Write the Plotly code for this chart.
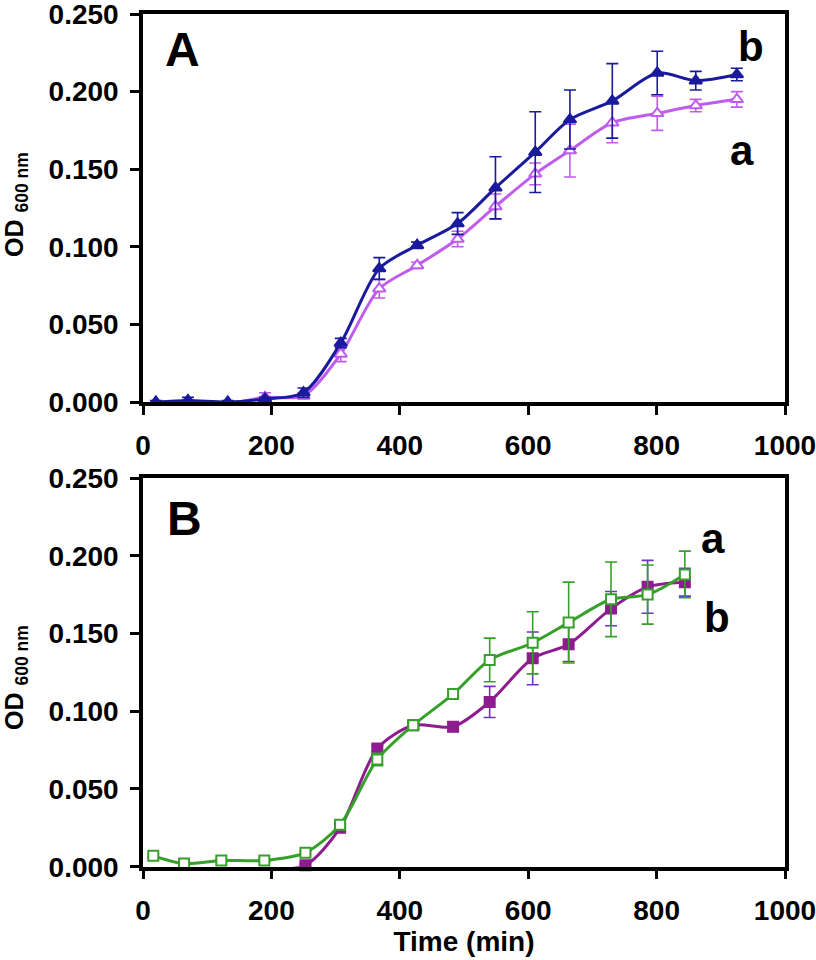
import plotly.graph_objects as go

# ---------------- Panel A data ----------------
time_A = [20, 70, 132, 190, 250, 308, 368, 427, 490, 549, 611, 665, 731, 801, 861, 925]
A_a = [-0.001, 0.000, -0.001, 0.003, 0.004, 0.031, 0.073, 0.088, 0.105, 0.126, 0.147, 0.162, 0.180, 0.186, 0.191, 0.195]
A_a_err = [0.001, 0.001, 0.001, 0.003, 0.002, 0.005, 0.006, 0.002, 0.005, 0.008, 0.007, 0.017, 0.013, 0.011, 0.004, 0.005]
A_b = [0.000, 0.001, 0.000, 0.002, 0.006, 0.038, 0.086, 0.101, 0.115, 0.138, 0.161, 0.182, 0.194, 0.212, 0.207, 0.211]
A_b_err = [0.001, 0.002, 0.001, 0.001, 0.003, 0.003, 0.007, 0.002, 0.007, 0.020, 0.026, 0.019, 0.024, 0.014, 0.006, 0.004]

# ---------------- Panel B data ----------------
time_B_a = [16, 64, 122, 189, 253, 307, 365, 421, 483, 540, 607, 663, 729, 786, 844]
B_a = [0.007, 0.002, 0.004, 0.004, 0.009, 0.027, 0.069, 0.091, 0.111, 0.133, 0.144, 0.157, 0.172, 0.175, 0.188]
B_a_err = [0.001, 0.001, 0.001, 0.001, 0.001, 0.002, 0.004, 0.002, 0.002, 0.014, 0.020, 0.026, 0.024, 0.019, 0.015]
time_B_b = [189, 253, 307, 365, 421, 483, 540, 607, 663, 729, 786, 844]
B_b = [-0.002, 0.001, 0.025, 0.076, 0.091, 0.090, 0.106, 0.134, 0.143, 0.166, 0.180, 0.183]
B_b_err = [0.001, 0.001, 0.002, 0.002, 0.002, 0.003, 0.010, 0.017, 0.011, 0.011, 0.017, 0.009]

x_ticks = [0, 200, 400, 600, 800, 1000]
y_ticks = [0.000, 0.050, 0.100, 0.150, 0.200, 0.250]

FONT = "Liberation Sans, Arial, sans-serif"
NAVY = "#1a1a9c"
LILAC = "#bf5cf0"
GREEN = "#36a02a"
PLUM = "#8e1c8e"
PLUM_ERR = "#6a35c8"

fig = go.Figure()


def add_series(x, y, err, color, err_color, symbol, fill, xa, ya, size):
    fig.add_trace(go.Scatter(
        x=x, y=y, mode="lines+markers", xaxis=xa, yaxis=ya,
        line=dict(color=color, width=3, shape="spline", smoothing=0.8),
        marker=dict(symbol=symbol, size=size, color=fill,
                    line=dict(color=color, width=2)),
        error_y=dict(type="data", array=err, visible=True,
                     color=err_color, thickness=1.6, width=6),
        cliponaxis=False, showlegend=False,
    ))


add_series(time_A, A_a, A_a_err, LILAC, LILAC, "triangle-up", "white", "x", "y", 11)
add_series(time_A, A_b, A_b_err, NAVY, NAVY, "triangle-up", NAVY, "x", "y", 11)
add_series(time_B_b, B_b, B_b_err, PLUM, PLUM_ERR, "square", PLUM, "x2", "y2", 10)
add_series(time_B_a, B_a, B_a_err, GREEN, GREEN, "square", "white", "x2", "y2", 10)

W, H = 816, 960
xdom = [143 / W, 785 / W]
ydomA = [1 - 402 / H, 1 - 14 / H]
ydomB = [1 - 866.7 / H, 1 - 478 / H]

axis_common = dict(
    showline=True, linecolor="black", linewidth=3.5, mirror=True,
    ticks="outside", ticklen=9, tickwidth=3, tickcolor="black",
    showgrid=False, zeroline=False, automargin=False,
    ticklabeloverflow="allow",
    tickfont=dict(family=FONT, size=28, color="black", weight="bold"),
)

xaxis_kw = dict(range=[0, 1000], tickvals=x_ticks, domain=xdom, ticklabelstandoff=7, **axis_common)
yaxis_kw = dict(range=[0, 0.25], tickvals=y_ticks, tickformat=".3f", ticklabelstandoff=6, **axis_common)

fig.update_layout(
    width=W, height=H,
    margin=dict(l=0, r=0, t=0, b=0, autoexpand=False),
    paper_bgcolor="white", plot_bgcolor="white",
    xaxis=dict(anchor="y", **xaxis_kw),
    yaxis=dict(anchor="x", domain=ydomA, **yaxis_kw),
    xaxis2=dict(anchor="y2", title=dict(text="<b>Time (min)</b>", standoff=0,
                                        font=dict(family=FONT, size=28, color="black")),
                **xaxis_kw),
    yaxis2=dict(anchor="x2", domain=ydomB, **yaxis_kw),
)

ylabel = "<b>OD</b> <sub><b>600 nm</b></sub>"
ann_font_big = dict(family=FONT, size=48, color="black")
ann_font_lbl = dict(family=FONT, size=42, color="black")
common_ann = dict(showarrow=False, xanchor="center", yanchor="middle")
annotations = [
    dict(text=ylabel, x=16 / W, y=1 - 205 / H, xref="paper", yref="paper", textangle=-90,
         font=dict(family=FONT, size=25, color="black"), **common_ann),
    dict(text=ylabel, x=16 / W, y=1 - 678 / H, xref="paper", yref="paper", textangle=-90,
         font=dict(family=FONT, size=25, color="black"), **common_ann),
    dict(text="<b>A</b>", x=62, y=0.227, xref="x", yref="y", font=ann_font_big, **common_ann),
    dict(text="<b>b</b>", x=947, y=0.229, xref="x", yref="y", font=ann_font_lbl, **common_ann),
    dict(text="<b>a</b>", x=933, y=0.162, xref="x", yref="y", font=ann_font_lbl, **common_ann),
    dict(text="<b>B</b>", x=65, y=0.224, xref="x2", yref="y2", font=ann_font_big, **common_ann),
    dict(text="<b>a</b>", x=888, y=0.211, xref="x2", yref="y2", font=ann_font_lbl, **common_ann),
    dict(text="<b>b</b>", x=894, y=0.160, xref="x2", yref="y2", font=ann_font_lbl, **common_ann),
]
fig.update_layout(annotations=annotations)

fig.write_html("out.html", config={"displayModeBar": False},
               post_script="document.body.style.margin='0';document.body.style.overflow='hidden';")
